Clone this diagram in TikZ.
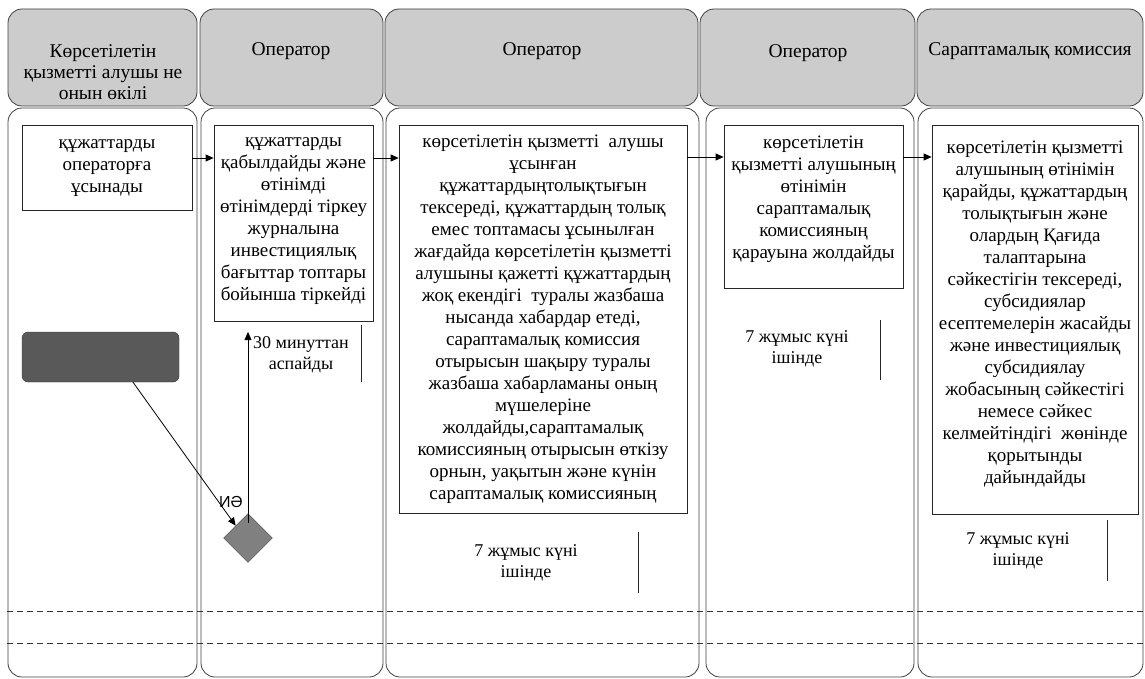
\documentclass[tikz,border=0pt]{standalone}
\usepackage{fontspec}
\setmainfont{Liberation Serif}
\newfontfamily\yesfont{Liberation Sans}
\usetikzlibrary{arrows.meta,shapes.geometric}

\begin{document}
\begin{tikzpicture}[x=1pt,y=-1pt,
    lanehead/.style={draw=black!75, fill=gray!40, rounded corners=14pt, line width=0.8pt},
    lanebody/.style={draw=black!75, fill=white, rounded corners=14pt, line width=0.8pt},
    headtext/.style={anchor=north, align=center, inner sep=0pt, font=\fontsize{19.5}{21}\selectfont},
    stepbox/.style={draw=black!85, fill=white, anchor=north, align=center, inner sep=2pt, line width=0.8pt, font=\fontsize{19}{22}\selectfont},
    timenote/.style={align=center, inner sep=0pt, font=\fontsize{18}{20.5}\selectfont},
    flow/.style={-{Triangle[length=8pt,width=7pt]}, line width=0.8pt},
  ]
  \useasboundingbox (0,0) rectangle (1145,679);

  % Lanes
  \draw[lanehead] (8,9) rectangle (197,106);
  \draw[lanehead] (200,9) rectangle (383,106);
  \draw[lanehead] (385,9) rectangle (698,106);
  \draw[lanehead] (700,9) rectangle (915,106);
  \draw[lanehead] (917,9) rectangle (1143,106);
  \draw[lanebody] (8,108) rectangle (197,677);
  \draw[lanebody] (201,108) rectangle (383,677);
  \draw[lanebody] (386,108) rectangle (699,677);
  \draw[lanebody] (706,108) rectangle (914,677);
  \draw[lanebody] (918,108) rectangle (1143,677);
  \draw[black!80, dash pattern=on 6pt off 4pt] (7,611) -- (1145,611);
  \draw[black!80, dash pattern=on 6pt off 4pt] (7,643) -- (1145,643);

  % Headers
  \node[headtext] (h1) at (103,44) {Көрсетілетін\\қызметті алушы не\\онын өкілі};
  \node[headtext] (h2) at (291,42) {Оператор};
  \node[headtext] (h3) at (542,42) {Оператор};
  \node[headtext] (h4) at (808,44) {Оператор};
  \node[headtext] (h5) at (1030,42) {Сараптамалық комиссия};

  % Steps
  \node[stepbox, minimum width=170pt, minimum height=85pt] (a) at (107,125)
    {құжаттарды\\операторға\\ұсынады};
  \node[stepbox, minimum width=159pt, minimum height=196pt] (b) at (293.5,125)
    {құжаттарды\\қабылдайды және\\өтінімді\\өтінімдерді тіркеу\\журналына\\инвестициялық\\бағыттар топтары\\бойынша тіркейді\rule[-8pt]{0pt}{8pt}};
  \node[stepbox, minimum width=288pt, minimum height=388pt] (c) at (543,125)
    {көрсетілетін қызметті\ \ алушы\\ұсынған\\құжаттардыңтолықтығын\\тексереді, құжаттардың толық\\емес топтамасы ұсынылған\\жағдайда көрсетілетін қызметті\\алушыны қажетті құжаттардың\\жоқ екендігі\ \ туралы жазбаша\\нысанда хабардар етеді,\\сараптамалық комиссия\\отырысын шақыру туралы\\жазбаша хабарламаны оның\\мүшелеріне\\жолдайды,сараптамалық\\комиссияның отырысын өткізу\\орнын, уақытын және күнін\\сараптамалық комиссияның};
  \node[stepbox, minimum width=179pt, minimum height=163pt] (d) at (813.5,125)
    {көрсетілетін\\қызметті алушының\\өтінімін\\сараптамалық\\комиссияның\\қарауына жолдайды\rule[-20pt]{0pt}{20pt}};
  \node[stepbox, minimum width=206pt, minimum height=389pt] (e) at (1035,125)
    {көрсетілетін қызметті\\алушының өтінімін\\қарайды, құжаттардың\\толықтығын және\\олардың Қағида\\талаптарына\\сәйкестігін тексереді,\\субсидиялар\\есептемелерін жасайды\\және инвестициялық\\субсидиялау\\жобасының сәйкестігі\\немесе сәйкес\\келмейтіндігі\ \ жөнінде\\қорытынды\\дайындайды\rule[-16pt]{0pt}{16pt}};

  \node[draw=black!80, fill=black!65, rounded corners=6pt, minimum width=157pt, minimum height=50pt] (start) at (100.5,357) {};
  \node[diamond, draw=black!70, fill=gray, minimum width=49pt, minimum height=49pt, inner sep=0pt] (dec) at (248,538) {};
  \coordinate (ret) at (248,332);

  % Times
  \node[timenote] (t1) at (301,355) {30 минуттан\\аспайды};
  \node[timenote] (t2) at (526,563) {7 жұмыс күні\\ішінде};
  \node[timenote] (t3) at (797,349) {7 жұмыс күні\\ішінде};
  \node[timenote] (t4) at (1018,551) {7 жұмыс күні\\ішінде};
  \draw[black!85, line width=0.8pt] (361,325) -- (361,382);
  \draw[black!85, line width=0.8pt] (638,532) -- (638,593);
  \draw[black!85, line width=0.8pt] (880,320) -- (880,380);
  \draw[black!85, line width=0.8pt] (1107,520) -- (1107,581);

  % Edges
  \draw[flow] (a.east |- 0,158) -- (b.west |- 0,158);
  \draw[flow] (b.east |- 0,158) -- (c.west |- 0,158);
  \draw[flow] (c.east |- 0,157) -- (d.west |- 0,157);
  \draw[flow] (d.east |- 0,157) -- (e.west |- 0,157);
  \draw[flow] ([xshift=32.5pt]start.south) -- (dec.north west);
  \node[font=\yesfont\fontsize{16}{18}\selectfont, inner sep=0pt] (yes) at (231,502) {ИӘ};
  \draw[flow] ([yshift=15pt]dec.center) -- (ret);
\end{tikzpicture}
\end{document}
